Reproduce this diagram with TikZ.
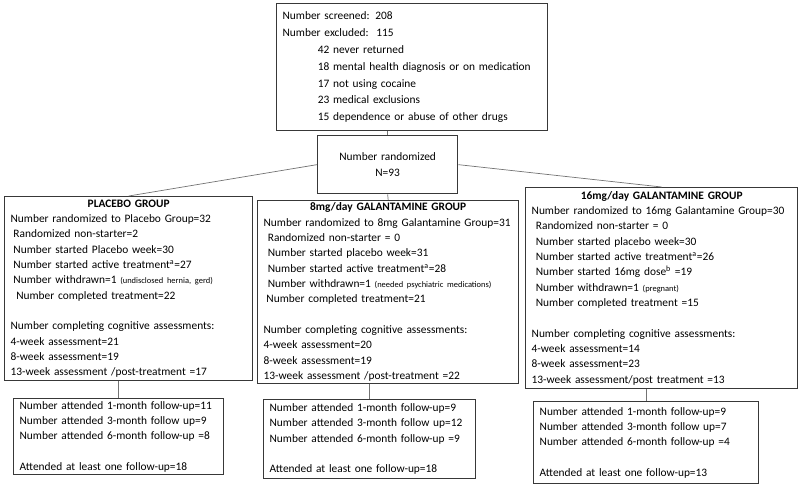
\documentclass[tikz,border=0pt]{standalone}
\usepackage{fontspec}
\setmainfont{Carlito}
\usetikzlibrary{positioning}
\definecolor{boxgray}{rgb}{0.22,0.22,0.22}
\definecolor{linkgray}{rgb}{0.45,0.45,0.45}
\tikzset{
    box/.style={draw=boxgray, line width=0.9pt, anchor=north west, inner xsep=0.15cm, inner ysep=0pt, align=left, font=\fontsize{8.1}{10.9}\selectfont}, % Styling for the boxes
    link/.style={draw=linkgray, line width=0.5pt}, % Plain connectors, no arrowheads
}
\newcommand{\nt}[1]{{\fontsize{6}{6}\selectfont #1}}

\begin{document}
\begin{tikzpicture}[x=0.025cm, y=-0.025cm]
    \useasboundingbox (0,0) rectangle (800,488);

    \node[box, font=\fontsize{8.1}{12}\selectfont, text width=6.475cm, minimum width=6.775cm, minimum height=3.175cm] (screen) at (276,3) {%
        Number screened: 208\\
        Number excluded:\ \ 115\\
        \hspace*{25pt}42 never returned\\
        \hspace*{25pt}18 mental health diagnosis or on medication\\
        \hspace*{25pt}17 not using cocaine\\
        \hspace*{25pt}23 medical exclusions\\
        \hspace*{25pt}15 dependence or abuse of other drugs};
    \node[box, font=\fontsize{8.1}{12}\selectfont, align=center, text width=3.2cm, minimum width=3.5cm, minimum height=1.45cm] (rand) at (317,135) {Number randomized\\N=93};

    \node[box, text width=5.9cm, minimum width=6.2cm, minimum height=4.6cm] (plac) at (4,196) {%
        \makebox[\linewidth]{\textbf{PLACEBO GROUP}}\\
        Number randomized to Placebo Group=32\\
        \hspace*{2pt}Randomized non-starter=2\\
        \hspace*{2pt}Number started Placebo week=30\\
        \hspace*{2pt}Number started active treatment\textsuperscript{a}=27\\
        \hspace*{2pt}Number withdrawn=1 \nt{(undisclosed hernia, gerd)}\\
        \hspace*{4pt}Number completed treatment=22\\[10.9pt]
        Number completing cognitive assessments:\\
        4-week assessment=21\\
        8-week assessment=19\\
        13-week assessment /post-treatment =17};
    \node[box, text width=6.225cm, minimum width=6.525cm, minimum height=4.575cm] (gal8) at (257,200) {%
        \makebox[\linewidth]{\textbf{8mg/day GALANTAMINE GROUP}}\\
        Number randomized to 8mg Galantamine Group=31\\
        \hspace*{3pt}Randomized non-starter = 0\\
        \hspace*{3pt}Number started placebo week=31\\
        \hspace*{3pt}Number started active treatment\textsuperscript{a}=28\\
        \hspace*{3pt}Number withdrawn=1 \nt{(needed psychiatric medications)}\\
        \hspace*{2pt}Number completed treatment=21\\[10.9pt]
        Number completing cognitive assessments:\\
        4-week assessment=20\\
        8-week assessment=19\\
        13-week assessment /post-treatment =22};
    \node[box, text width=6.5cm, minimum width=6.8cm, minimum height=5.025cm] (gal16) at (525,187) {%
        \makebox[\linewidth]{\textbf{16mg/day GALANTAMINE GROUP}}\\
        Number randomized to 16mg Galantamine Group=30\\
        \hspace*{3pt}Randomized non-starter = 0\\
        \hspace*{3pt}Number started placebo week=30\\
        \hspace*{3pt}Number started active treatment\textsuperscript{a}=26\\
        \hspace*{3pt}Number started 16mg dose\textsuperscript{b} =19\\
        \hspace*{3pt}Number withdrawn=1 \nt{(pregnant)}\\
        \hspace*{3pt}Number completed treatment =15\\[10.9pt]
        Number completing cognitive assessments:\\
        4-week assessment=14\\
        8-week assessment=23\\
        13-week assessment/post treatment =13};

    \node[box, text width=4.95cm, minimum width=5.25cm, minimum height=1.9cm] (fuplac) at (13,398) {%
        Number attended 1-month follow-up=11\\
        Number attended 3-month follow up=9\\
        Number attended 6-month follow-up =8\\[10.9pt]
        Attended at least one follow-up=18};
    \node[box, text width=5.0cm, minimum width=5.3cm, minimum height=1.975cm] (fugal8) at (263,399) {%
        Number attended 1-month follow-up=9\\
        Number attended 3-month follow up=12\\
        Number attended 6-month follow-up =9\\[10.9pt]
        Attended at least one follow-up=18};
    \node[box, text width=5.325cm, minimum width=5.625cm, minimum height=2.05cm] (fugal16) at (533,401) {%
        Number attended 1-month follow-up=9\\
        Number attended 3-month follow up=7\\
        Number attended 6-month follow-up =4\\[10.9pt]
        Attended at least one follow-up=13};

    \path[link]
        (screen.south -| rand.north) edge (rand.north)
        (rand.west) edge (plac.north)
        (rand.south) edge (gal8.north)
        (rand.east) edge (gal16.north)
        (plac.south -| fuplac.north) edge (fuplac.north)
        (gal8.south -| fugal8.north) edge (fugal8.north)
        (gal16.south -| fugal16.north) edge (fugal16.north);
\end{tikzpicture}
\end{document}
